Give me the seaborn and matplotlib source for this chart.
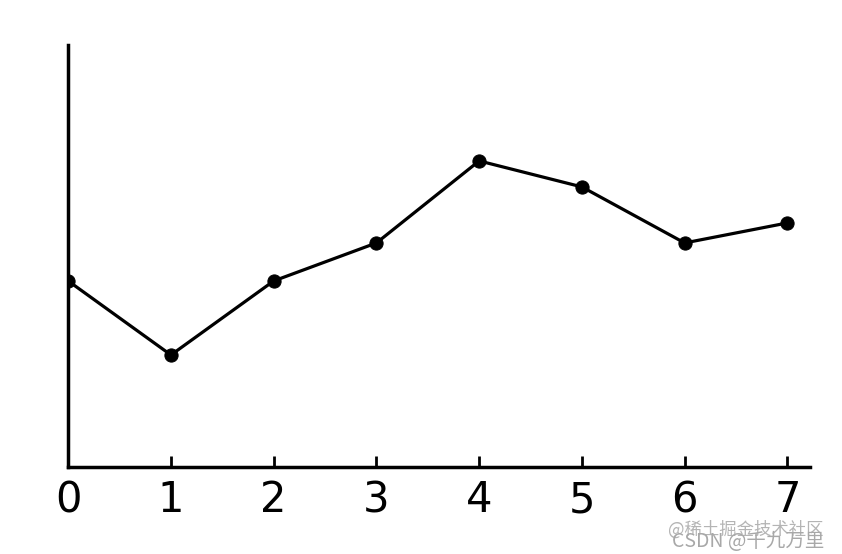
import matplotlib
matplotlib.use("Agg")
import matplotlib.pyplot as plt
import seaborn as sns
import pandas as pd

# data
x_vals = [0, 1, 2, 3, 4, 5, 6, 7]
y_vals = [4.65, 2.8, 4.65, 5.6, 7.65, 7.0, 5.6, 6.1]
tick_labels = ["0", "1", "2", "3", "4", "5", "6", "7"]

df = pd.DataFrame({"x": x_vals, "y": y_vals})

sns.set_style("white")
plt.rcParams['font.family'] = ['DejaVu Sans', 'Noto Sans CJK SC']

fig = plt.figure(figsize=(8.42, 5.54), dpi=100)
ax = fig.add_axes([0.081, 0.157, 0.881, 0.762])

sns.lineplot(data=df, x="x", y="y", ax=ax, color="black", linewidth=2.3,
             marker="o", markersize=9.5, markeredgecolor="black")

ax.set_xlim(0, 7.22)
ax.set_ylim(0, 10.55)
ax.set_xlabel("")
ax.set_ylabel("")
ax.set_yticks([])
ax.set_xticks(x_vals[1:])
ax.set_xticklabels([])
ax.tick_params(axis="x", bottom=True, direction="in", length=8, width=2,
               color="black")

# tick labels, 0 included at the origin
for xv, lab in zip(x_vals, tick_labels):
    ax.text(xv, -0.3, lab, ha="center", va="top", fontsize=30,
            color="black", transform=ax.transData, clip_on=False)

for side in ["top", "right"]:
    ax.spines[side].set_visible(False)
for side in ["left", "bottom"]:
    ax.spines[side].set_color("black")
    ax.spines[side].set_linewidth(2.5)

# watermark
fig.text(0.793, 0.034, "@稀土掘金技术社区", color="#b4b4b4", fontsize=12.5,
         family=['Noto Sans CJK SC', 'DejaVu Sans'])
fig.text(0.798, 0.012, "CSDN @千九万里", color="#a8a8a8", fontsize=14,
         family=['Noto Sans CJK SC', 'DejaVu Sans'])

fig.savefig("out.png", dpi=100, facecolor="white")
